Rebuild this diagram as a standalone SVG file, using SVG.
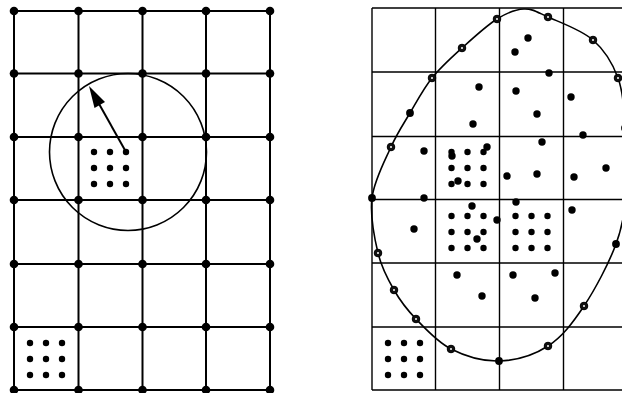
<svg xmlns="http://www.w3.org/2000/svg" width="622" height="393" viewBox="0 0 622 393">
<style>
.gl{stroke:#000;stroke-width:2;fill:none}
.gr{stroke:#000;stroke-width:1.4;fill:none}
.n{fill:#000}
.cv{stroke:#000;stroke-width:1.6;fill:none}
.mo{fill:#111;stroke:#000;stroke-width:1}
.mh{fill:#fff}
</style>
<defs>
<circle id="gn" r="4.3" class="n"/>
<circle id="d" r="3.2" class="n"/>
<circle id="D" r="3.7" class="n"/>
<g id="om"><circle r="3.8" class="mo"/><circle r="1" class="mh"/></g>
<g id="fm"><circle r="3.9" class="n"/></g>
<g id="c3"><use href="#d" x="0" y="0"/><use href="#d" x="16" y="0"/><use href="#d" x="32" y="0"/><use href="#d" x="0" y="16"/><use href="#d" x="16" y="16"/><use href="#d" x="32" y="16"/><use href="#d" x="0" y="32"/><use href="#d" x="16" y="32"/><use href="#d" x="32" y="32"/></g>
</defs>
<rect width="622" height="393" fill="#fff"/>
<g id="left-grid">
<g class="gl">
<path d="M14,11H270M14,73.5H270M14,137H270M14,200H270M14,264H270M14,327H270M14,390H270"/>
<path d="M14,11V390M78.5,11V390M142.5,11V390M206,11V390M270,11V390"/>
</g>
<g id="left-nodes">
<use href="#gn" x="14" y="11"/><use href="#gn" x="78.5" y="11"/><use href="#gn" x="142.5" y="11"/><use href="#gn" x="206" y="11"/><use href="#gn" x="270" y="11"/>
<use href="#gn" x="14" y="73.5"/><use href="#gn" x="78.5" y="73.5"/><use href="#gn" x="142.5" y="73.5"/><use href="#gn" x="206" y="73.5"/><use href="#gn" x="270" y="73.5"/>
<use href="#gn" x="14" y="137"/><use href="#gn" x="78.5" y="137"/><use href="#gn" x="142.5" y="137"/><use href="#gn" x="206" y="137"/><use href="#gn" x="270" y="137"/>
<use href="#gn" x="14" y="200"/><use href="#gn" x="78.5" y="200"/><use href="#gn" x="142.5" y="200"/><use href="#gn" x="206" y="200"/><use href="#gn" x="270" y="200"/>
<use href="#gn" x="14" y="264"/><use href="#gn" x="78.5" y="264"/><use href="#gn" x="142.5" y="264"/><use href="#gn" x="206" y="264"/><use href="#gn" x="270" y="264"/>
<use href="#gn" x="14" y="327"/><use href="#gn" x="78.5" y="327"/><use href="#gn" x="142.5" y="327"/><use href="#gn" x="206" y="327"/><use href="#gn" x="270" y="327"/>
<use href="#gn" x="14" y="390"/><use href="#gn" x="78.5" y="390"/><use href="#gn" x="142.5" y="390"/><use href="#gn" x="206" y="390"/><use href="#gn" x="270" y="390"/>
</g>
<circle cx="128" cy="152" r="78.5" class="cv"/>
<use href="#c3" x="94" y="152"/>
<use href="#c3" x="30" y="343"/>
<g id="arrow">
<line x1="126" y1="152" x2="98" y2="102" stroke="#000" stroke-width="2"/>
<polygon points="89,86 105,102.1 94.5,108" fill="#000"/>
</g>
</g>
<g id="right-grid">
<g class="gr">
<path d="M372,8H622M372,72H622M372,136.5H622M372,199.5H622M372,263H622M372,327H622M372,390H622"/>
<path d="M372,8V390M435.5,8V390M499.5,8V390M563.5,8V390"/>
</g>
<path id="curve" class="cv" d="M524,9 C532.5,8.67 536.5,11.83 548,17 C559.5,22.17 581.33,29.83 593,40 C604.67,50.17 612.67,63.33 618,78 C623.33,92.67 623.67,109 625,128 C626.33,147 627.5,172.67 626,192 C624.5,211.33 623,225 616,244 C609,263 595.33,289 584,306 C572.67,323 562.17,336.83 548,346 C533.83,355.17 515.17,360.5 499,361 C482.83,361.5 464.83,356 451,349 C437.17,342 425.5,328.83 416,319 C406.5,309.17 400.33,301 394,290 C387.67,279 381.67,268.33 378,253 C374.33,237.67 369.83,215.67 372,198 C374.17,180.33 384.67,161.17 391,147 C397.33,132.83 403.17,124.5 410,113 C416.83,101.5 423.33,88.83 432,78 C440.67,67.17 451.17,57.83 462,48 C472.83,38.17 486.67,25.5 497,19 C507.33,12.5 515.5,9.33 524,9 Z"/>
<g id="curve-markers">
<use href="#om" x="497" y="19"/><use href="#om" x="548" y="17"/><use href="#om" x="593" y="40"/><use href="#om" x="618" y="78"/>
<use href="#fm" x="625" y="128"/><use href="#fm" x="626" y="192"/><use href="#fm" x="616" y="244"/>
<use href="#om" x="584" y="306"/><use href="#om" x="548" y="346"/><use href="#fm" x="499" y="361"/>
<use href="#om" x="451" y="349"/><use href="#om" x="416" y="319"/><use href="#om" x="394" y="290"/><use href="#om" x="378" y="253"/>
<use href="#fm" x="372" y="198"/><use href="#om" x="391" y="147"/><use href="#fm" x="410" y="113"/><use href="#om" x="432" y="78"/><use href="#om" x="462" y="48"/>
</g>
<g id="interior-dots">
<use href="#D" x="528" y="38"/><use href="#D" x="515" y="52"/><use href="#D" x="549" y="73"/><use href="#D" x="479" y="87"/><use href="#D" x="516" y="91"/><use href="#D" x="571" y="97"/><use href="#D" x="537" y="114"/><use href="#D" x="473" y="124"/><use href="#D" x="542" y="142"/><use href="#D" x="583" y="135"/><use href="#D" x="424" y="151"/><use href="#D" x="507" y="176"/><use href="#D" x="537" y="174"/><use href="#D" x="574" y="177"/><use href="#D" x="606" y="168"/><use href="#D" x="424" y="198"/><use href="#D" x="472" y="206"/><use href="#D" x="516" y="202"/><use href="#D" x="572" y="210"/><use href="#D" x="414" y="229"/><use href="#D" x="497" y="220"/><use href="#D" x="477" y="239"/><use href="#D" x="457" y="275"/><use href="#D" x="513" y="275"/><use href="#D" x="555" y="273"/><use href="#D" x="482" y="296"/><use href="#D" x="535" y="298"/>
<use href="#D" x="452" y="156"/><use href="#D" x="487" y="147"/><use href="#D" x="458" y="181"/>
</g>
<use href="#c3" x="451.5" y="152"/>
<use href="#c3" x="451.5" y="216"/>
<use href="#c3" x="515.5" y="216"/>
<use href="#c3" x="388" y="343"/>
</g>
</svg>
